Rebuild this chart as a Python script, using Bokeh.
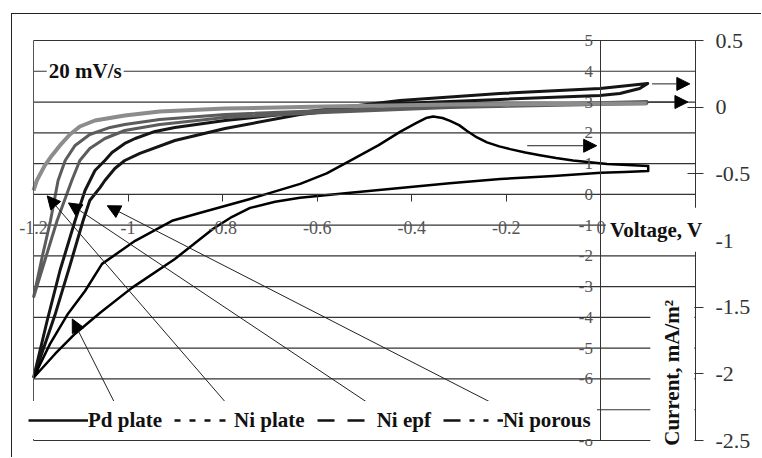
import math
from bokeh.plotting import figure
from bokeh.models import (Range1d, LinearAxis, FixedTicker, CustomJSTickFormatter,
                          Legend, LegendItem, Label, Arrow, NormalHead)
from bokeh.embed import file_html
from bokeh.resources import INLINE

# ---------------- data ----------------
x_min, x_max = -1.2, 0.2
x_ticks = [-1.2, -1.0, -0.8, -0.6, -0.4, -0.2, 0.0]
left_ticks = [-8, -7, -6, -5, -4, -3, -2, -1, 0, 1, 2, 3, 4, 5]
right_ticks = [-2.5, -2.0, -1.5, -1.0, -0.5, 0.0, 0.5]
series_names = ["Pd plate", "Ni plate", "Ni epf", "Ni porous"]

# Pd plate (left axis, current)
pd_x = [-1.2, -1.165, -1.127, -1.091, -1.055, -0.985, -0.907, -0.847, -0.742, -0.636,
        -0.58, -0.531, -0.47, -0.425, -0.39, -0.37, -0.355, -0.335, -0.319, -0.3,
        -0.283, -0.262, -0.241, -0.215, -0.192, -0.16, -0.129, -0.095, -0.059, 0.013, 0.1,
        0.1, 0.05, 0.0, -0.1, -0.213, -0.32, -0.425, -0.53, -0.6365, -0.689, -0.742,
        -0.78, -0.82, -0.901, -0.992, -1.059, -1.112, -1.154, -1.2]
pd_y = [-5.96, -4.86, -3.88, -3.14, -2.26, -1.51, -0.86, -0.6, -0.15, 0.34,
        0.68, 1.09, 1.6, 2.03, 2.32, 2.48, 2.53, 2.48, 2.39, 2.25,
        2.06, 1.85, 1.69, 1.56, 1.47, 1.36, 1.27, 1.18, 1.1, 0.99, 0.92,
        0.76, 0.73, 0.7, 0.6, 0.5, 0.36, 0.21, 0.05, -0.11, -0.24, -0.44,
        -0.73, -1.12, -2.1, -3.04, -3.85, -4.53, -5.18, -5.96]

# Ni plate (right axis)
niplate_x = [-1.2, -1.171, -1.144, -1.112, -1.091, -1.07, -1.049, -1.034, -1.007, -0.985,
             -0.943, -0.901, -0.795, -0.637, -0.425, -0.214, -0.002, 0.099,
             0.082, 0.04, -0.002, -0.214, -0.425, -0.637, -0.795, -0.901, -0.975, -1.007,
             -1.028, -1.049, -1.059, -1.081, -1.095, -1.123, -1.155, -1.2]
niplate_y = [-2.03, -1.6, -1.225, -0.85, -0.625, -0.475, -0.4, -0.34, -0.272, -0.235,
             -0.182, -0.152, -0.1, -0.04, 0.05, 0.103, 0.14, 0.178,
             0.14, 0.103, 0.088, 0.058, 0.028, -0.055, -0.16, -0.25, -0.347, -0.4,
             -0.46, -0.55, -0.602, -0.7, -0.85, -1.188, -1.563, -2.03]

# Ni epf (right axis)
niepf_x = [-1.2, -1.193, -1.176, -1.161, -1.144, -1.123, -1.102, -1.07, -1.007, -0.933,
           -0.795, -0.584, -0.319, 0.097]
niepf_y = [-0.625, -0.55, -0.437, -0.362, -0.287, -0.205, -0.145, -0.1, -0.062, -0.032,
           -0.01, 0.005, 0.02, 0.028]

# Ni porous (right axis)
niporous_x = [-1.2, -1.181, -1.164, -1.148, -1.133, -1.112, -1.081, -1.038, -1.007, -0.933,
              -0.795, -0.584, -0.319, 0.097,
              0.097, -0.319, -0.584, -0.795, -0.933, -1.007, -1.049, -1.081, -1.102,
              -1.119, -1.15, -1.176, -1.2]
niporous_y = [-1.428, -1.113, -0.85, -0.55, -0.4, -0.287, -0.205, -0.152, -0.13, -0.092,
              -0.055, -0.025, 0.005, 0.043,
              0.028, -0.002, -0.04, -0.077, -0.13, -0.175, -0.235, -0.31, -0.4,
              -0.55, -0.85, -1.15, -1.428]

# annotation arrows (left-axis data units): start x, start y, end x, end y
arrow_x0 = [-1.023, -0.778, -0.467, -1.044, 0.108, 0.099, -0.156]
arrow_y0 = [-6.94, -7.04, -7.04, -0.37, 3.59, 3.0, 1.58]
arrow_x1 = [-1.118, -1.171, -1.126, -0.186, 0.188, 0.184, -0.009]
arrow_y1 = [-4.05, -0.05, -0.28, -7.13, 3.59, 3.0, 1.58]
arrow_both = [False, False, False, True, False, False, False]

# ---------------- layout constants (pixels) ----------------
W, H = 750, 444                     # canvas (page offset 12, 14 by CSS border/margin)
FL, FR, FT, FB = 21, 683, 26, 426   # plot-area edges inside the canvas
left_lo, left_hi = left_ticks[0], left_ticks[-1]
right_lo, right_hi = right_ticks[0], right_ticks[-1]
sx = (FR - FL) / (x_max - x_min)
sy = (FB - FT) / (left_hi - left_lo)
sr = (FB - FT) / (right_hi - right_lo)

SERIF = "Liberation Serif"
GRID = "#333333"

p = figure(width=W, height=H,
           x_range=Range1d(x_min - FL / sx, x_max + (W - FR) / sx),
           y_range=Range1d(left_lo - (H - FB) / sy, left_hi + FT / sy),
           output_backend="svg", toolbar_location=None,
           x_axis_location=None, y_axis_location=None,
           min_border_left=0, min_border_right=0, min_border_top=0, min_border_bottom=0)
p.extra_y_ranges = {"r": Range1d(right_lo - (H - FB) / sr, right_hi + FT / sr)}
p.styles = {"border-left": "1px solid #222", "border-top": "1px solid #222",
            "margin-left": "11px", "margin-top": "13px"}
p.outline_line_color = None
p.background_fill_color = "white"
p.border_fill_color = "white"
p.xgrid.visible = False
p.ygrid.visible = False

fmt = CustomJSTickFormatter(code="return String(Math.round(tick*10)/10)")

# horizontal gridlines of the plot area
p.segment(x0=x_min, x1=x_max, y0=left_ticks, y1=left_ticks, line_color=GRID, line_width=1.2)

# left edge of plot area
edge = LinearAxis(fixed_location=x_min, bounds=(left_lo, left_hi), ticker=FixedTicker(ticks=[]))
edge.axis_line_color = "#555555"
edge.major_tick_line_color = None
edge.minor_tick_line_color = None
p.add_layout(edge, "left")

xa = LinearAxis(fixed_location=0, bounds=(x_min, x_max), ticker=FixedTicker(ticks=x_ticks),
                formatter=fmt)
xa.axis_line_color = GRID
xa.major_tick_in = 0
xa.major_tick_out = 7
xa.major_tick_line_color = GRID
xa.minor_tick_line_color = None
xa.major_label_standoff = 20
xa.major_label_text_font = SERIF
xa.major_label_text_font_size = "18px"
xa.major_label_text_color = "#555555"
p.add_layout(xa, "below")

ya = LinearAxis(fixed_location=0, bounds=(left_lo, left_hi), ticker=FixedTicker(ticks=left_ticks),
                formatter=fmt)
ya.axis_line_color = GRID
ya.major_tick_in = 0
ya.major_tick_out = 0
ya.minor_tick_line_color = None
ya.major_label_standoff = 8
ya.major_label_text_font = SERIF
ya.major_label_text_font_size = "17px"
ya.major_label_text_color = "#555555"
p.add_layout(ya, "left")

ra = LinearAxis(y_range_name="r", fixed_location=x_max, bounds=(right_lo, right_hi),
                ticker=FixedTicker(ticks=right_ticks), formatter=fmt)
ra.axis_line_color = GRID
ra.major_tick_in = 8
ra.major_tick_out = 8
ra.major_tick_line_color = GRID
ra.minor_tick_line_color = None
ra.major_label_standoff = 12
ra.major_label_text_font = SERIF
ra.major_label_text_font_size = "22px"
ra.major_label_text_color = "#333333"
p.add_layout(ra, "right")

# curves
p.line(niplate_x, niplate_y, y_range_name="r", line_color="#151515", line_width=3,
       line_join="round")
p.line(niporous_x, niporous_y, y_range_name="r", line_color="#5c5c5c", line_width=3,
       line_join="round")
p.line(niepf_x, niepf_y, y_range_name="r", line_color="#8c8c8c", line_width=4,
       line_join="round")
p.line(pd_x, pd_y, line_color="black", line_width=2.5, line_join="round")

# legend (placeholder renderers carry the dash styles of the legend keys)
dashes = ["solid", "6 9", "17 13", "17 9 5 9 5 9"]
items = []
for name, dash in zip(series_names, dashes):
    r = p.line(x=[float("nan")], y=[float("nan")], line_color="#111111", line_width=2.5,
               line_dash=dash)
    items.append(LegendItem(label=name, renderers=[r]))
legend = Legend(items=items, orientation="horizontal", location=(10, 19), margin=0,
                padding=5, spacing=12, glyph_width=60, glyph_height=26, label_height=26,
                label_standoff=0, label_text_font=SERIF, label_text_font_style="bold",
                label_text_font_size="21px", label_text_color="#111111",
                border_line_color="white", border_line_width=1,
                background_fill_color="white", background_fill_alpha=1)
p.add_layout(legend)

# text labels
p.add_layout(Label(x=-1.172, y=4, text="20 mV/s", text_baseline="middle",
                   text_font=SERIF, text_font_style="bold", text_font_size="21px",
                   text_color="#111111", background_fill_color="white", padding=2))
p.add_layout(Label(x=0.0105, y=-1.15, text="Voltage, V", text_baseline="middle",
                   text_font=SERIF, text_font_style="bold", text_font_size="21px",
                   text_color="#111111", background_fill_color="white", padding=(4, 10)))
p.add_layout(Label(x=0.151, y=-5.8, text="Current, mA/m\u00b2", angle=math.pi / 2,
                   text_align="center", text_baseline="middle",
                   text_font=SERIF, text_font_style="bold", text_font_size="21px",
                   text_color="#111111", background_fill_color="white", padding=(4, 10)))

# arrows (drawn above the legend box)
for x0, y0, x1, y1, both in zip(arrow_x0, arrow_y0, arrow_x1, arrow_y1, arrow_both):
    arr = Arrow(x_start=x0, y_start=y0, x_end=x1, y_end=y1,
                end=NormalHead(size=13, fill_color="black", line_color="black"),
                start=NormalHead(size=13, fill_color="black", line_color="black") if both else None,
                line_color="#222222", line_width=1, level="overlay")
    p.add_layout(arr)

open("out.html", "w").write(file_html(p, INLINE))
